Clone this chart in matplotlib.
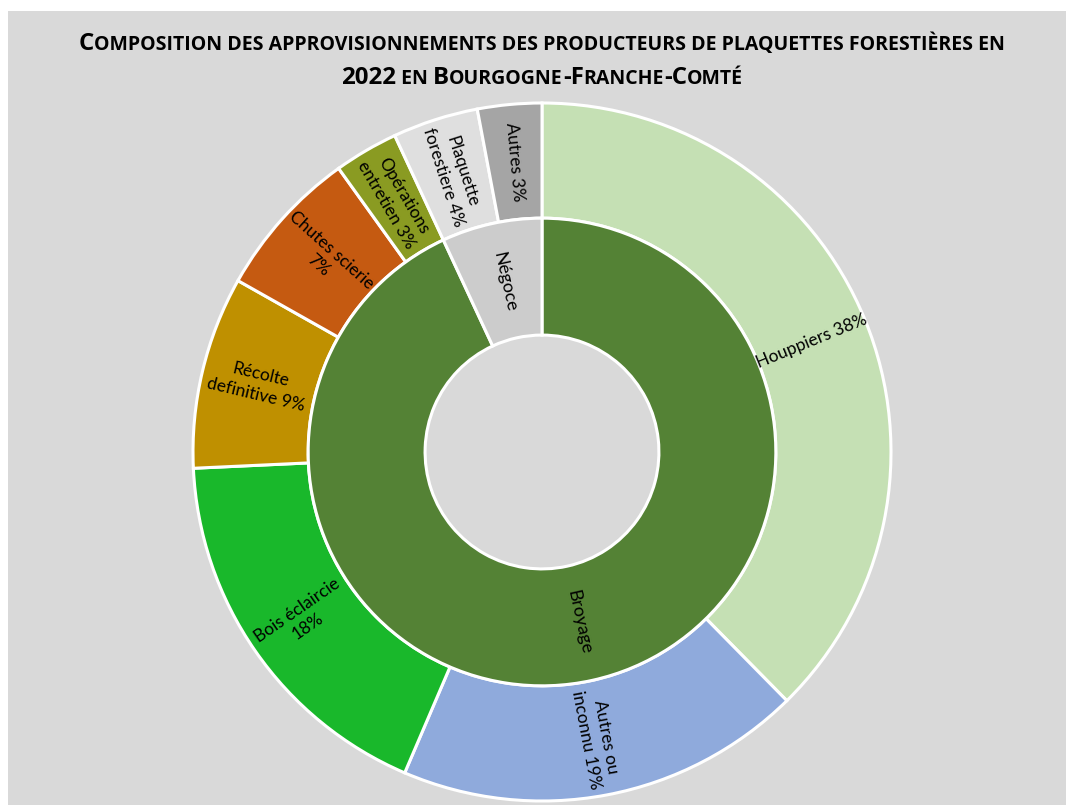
import numpy as np
import matplotlib
matplotlib.use("Agg")
import matplotlib.pyplot as plt
from matplotlib.patches import Rectangle
from matplotlib.offsetbox import TextArea, HPacker, VPacker, AnnotationBbox

plt.rcParams['font.family'] = ['Lato', 'DejaVu Sans']

# donnees
outer_labels = ["Houppiers 38%", "Autres ou\ninconnu 19%", "Bois éclaircie\n18%",
                "Récolte\ndefinitive 9%", "Chutes scierie\n7%", "Opérations\nentretien 3%",
                "Plaquette\nforestiere 4%", "Autres 3%"]
outer_values = [38, 19, 18, 9, 7, 3, 4, 3]
outer_colors = ["#c5e0b4", "#8faadc", "#19b82b", "#bf9000", "#c55a11", "#8a9b22",
                "#dfdfdf", "#a5a5a5"]

inner_labels = ["Broyage", "Négoce"]
inner_values = [94, 7]
inner_colors = ["#548235", "#cccccc"]

title_lines = ["Composition des approvisionnements des producteurs de plaquettes forestières en",
               "2022 en Bourgogne-Franche-Comté"]

bg = "#d9d9d9"

fig = plt.figure(figsize=(10.66, 8.05), dpi=100, facecolor="white")
fig.patches.append(Rectangle((8 / 1066, 0), 1, 1 - 11 / 805, transform=fig.transFigure,
                             facecolor=bg, edgecolor="none", zorder=-5))

ax = fig.add_axes([193 / 1066, 4 / 805, 698 / 1066, 698 / 805])
ax.set_facecolor("none")

w_out, _ = ax.pie(outer_values, radius=1.0, colors=outer_colors, startangle=90,
                  counterclock=False,
                  wedgeprops=dict(width=0.33, edgecolor="white", linewidth=2.2))
w_in, _ = ax.pie(inner_values, radius=0.67, colors=inner_colors, startangle=90,
                 counterclock=False,
                 wedgeprops=dict(width=0.335, edgecolor="white", linewidth=2.2))
for w in list(w_out) + list(w_in):
    w.set_clip_on(False)
ax.set_xlim(-1, 1)
ax.set_ylim(-1, 1)


def put_labels(wedges, labels, r, size):
    for w, lab in zip(wedges, labels):
        ang = (w.theta1 + w.theta2) / 2.0
        x = r * np.cos(np.deg2rad(ang))
        y = r * np.sin(np.deg2rad(ang))
        rot = ang
        while rot > 90:
            rot -= 180
        while rot < -90:
            rot += 180
        ax.text(x, y, lab, ha="center", va="center", rotation=rot,
                rotation_mode="anchor", multialignment="center",
                fontsize=size, color="black", linespacing=1.3)


put_labels(w_out, outer_labels, 0.835, 12.5)
put_labels(w_in, inner_labels, 0.50, 13)


# titre en petites capitales
def small_caps_line(text, big, small):
    runs = []
    for ch in text:
        is_big = not ch.islower()
        if ch == " ":
            is_big = False
        if runs and runs[-1][1] == is_big:
            runs[-1][0] += ch
        else:
            runs.append([ch, is_big])
    boxes = []
    for s, is_big in runs:
        boxes.append(TextArea(s.upper(), textprops=dict(fontsize=big if is_big else small,
                                                        fontweight="bold", color="black",
                                                        family=["Open Sans", "DejaVu Sans"])))
    return HPacker(children=boxes, align="baseline", pad=0, sep=0)


lines = [small_caps_line(t, 17.3, 14) for t in title_lines]
title_box = VPacker(children=lines, align="center", pad=0, sep=7)
ab = AnnotationBbox(title_box, (542 / 1066, 1 - 61 / 805), xycoords="figure fraction",
                    box_alignment=(0.5, 0.5), frameon=False)
fig.add_artist(ab)

fig.savefig("out.png", dpi=100, facecolor="white")
